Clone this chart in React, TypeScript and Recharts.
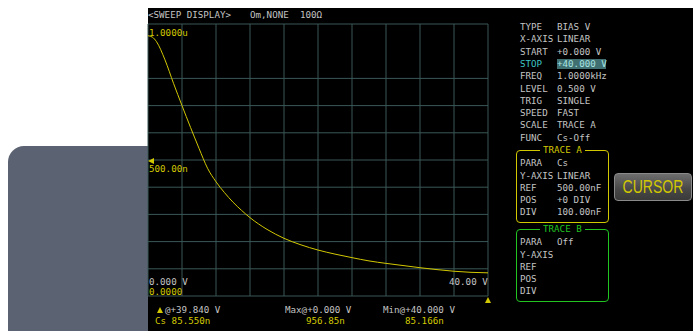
import React from 'react';
import { LineChart, Line, XAxis, YAxis, CartesianGrid } from 'recharts';

// Bias sweep, Cs (nF) against bias voltage (V)
const biasVolts = [0, 0.5, 1, 2, 3, 4, 5, 6, 7, 8, 9, 10, 11, 12, 13, 14, 16, 18, 20, 22, 24, 26, 28, 30, 32, 34, 36, 38, 40];
const csNano = [956.85, 952, 935, 868, 782, 700, 620, 543, 470, 420, 380, 345, 315, 288, 265, 245, 212, 188, 169, 154, 141, 129, 120, 112, 104, 97, 91, 87, 85.166];

const xTicks = [0, 4, 8, 12, 16, 20, 24, 28, 32, 36, 40];
const yTicks = [0, 100, 200, 300, 400, 500, 600, 700, 800, 900, 1000];

const setupRows = [
  ['TYPE', 'BIAS V'],
  ['X-AXIS', 'LINEAR'],
  ['START', '+0.000 V'],
  ['STOP', '+40.000 V'],
  ['FREQ', '1.0000kHz'],
  ['LEVEL', '0.500 V'],
  ['TRIG', 'SINGLE'],
  ['SPEED', 'FAST'],
  ['SCALE', 'TRACE A'],
  ['FUNC', 'Cs-Off'],
];
const traceARows = [
  ['PARA', 'Cs'],
  ['Y-AXIS', 'LINEAR'],
  ['REF', '500.00nF'],
  ['POS', '+0 DIV'],
  ['DIV', '100.00nF'],
];
const traceBRows = [
  ['PARA', 'Off'],
  ['Y-AXIS', ''],
  ['REF', ''],
  ['POS', ''],
  ['DIV', ''],
];

const data = biasVolts.map((v, i) => ({ v, cs: csNano[i] }));

const MONO = '"DejaVu Sans Mono", monospace';
const GRAY = '#c4c4c4';
const YELLOW = '#d2c800';
const GREEN = '#22c422';
const GRID = '#3b5757';

function T({ x, y, color = GRAY, children, style }: { x: number; y: number; color?: string; children: React.ReactNode; style?: React.CSSProperties }) {
  return (
    <div
      style={{
        position: 'absolute',
        left: x,
        top: y - 5,
        height: 10,
        lineHeight: '10px',
        fontFamily: MONO,
        fontSize: 9.2,
        color,
        whiteSpace: 'pre',
        ...style,
      }}
    >
      {children}
    </div>
  );
}

function TraceBox({ top, title, color, rows }: { top: number; title: string; color: string; rows: string[][] }) {
  return (
    <>
      <div
        style={{
          position: 'absolute',
          left: 516,
          top,
          width: 91,
          height: 71,
          border: `1px solid ${color}`,
          borderRadius: 4,
        }}
      />
      <T x={540} y={top} color={color} style={{ background: '#000', padding: '0 3px' }}>
        {title}
      </T>
      {rows.map((r, i) => (
        <React.Fragment key={r[0]}>
          <T x={520} y={top + 13.3 + i * 12.2}>{r[0]}</T>
          <T x={557} y={top + 13.3 + i * 12.2}>{r[1]}</T>
        </React.Fragment>
      ))}
    </>
  );
}

export default function App() {
  return (
    <div style={{ position: 'absolute', left: 0, top: 0, width: 699, height: 331, background: '#fff', overflow: 'hidden' }}>
      {/* grey bezel */}
      <div style={{ position: 'absolute', left: 8, top: 146, width: 160, height: 200, background: '#5b6373', borderRadius: 16 }} />
      {/* screen */}
      <div style={{ position: 'absolute', left: 148, top: 8, width: 545, height: 330, background: '#000' }} />

      <div style={{ position: 'absolute', left: 147, top: 23 }}>
        <LineChart width={342} height={274} data={data} margin={{ top: 1, right: 1, bottom: 1, left: 1 }}>
          <CartesianGrid stroke={GRID} strokeWidth={1} />
          <XAxis dataKey="v" type="number" domain={[0, 40]} ticks={xTicks} hide />
          <YAxis type="number" domain={[0, 1000]} ticks={yTicks} hide />
          <Line
            type="monotone"
            dataKey="cs"
            stroke={YELLOW}
            strokeWidth={1}
            dot={false}
            isAnimationActive={false}
          />
        </LineChart>
      </div>

      {/* header */}
      <T x={148} y={15}>{'<SWEEP DISPLAY>'}</T>
      <T x={250} y={15}>Om,NONE</T>
      <T x={300} y={15}>100Ω</T>

      {/* axis labels */}
      <T x={149} y={33} color={YELLOW}>1.0000u</T>
      <div style={{ position: 'absolute', left: 148, top: 158, width: 0, height: 0, borderTop: '3px solid transparent', borderBottom: '3px solid transparent', borderRight: `6px solid ${YELLOW}` }} />
      <T x={149} y={169} color={YELLOW}>500.00n</T>
      <T x={149} y={282}>0.000 V</T>
      <T x={149} y={292} color={YELLOW}>0.0000</T>
      <T x={449} y={282}>40.00 V</T>
      <div style={{ position: 'absolute', left: 485, top: 297, width: 0, height: 0, borderLeft: '3px solid transparent', borderRight: '3px solid transparent', borderBottom: `6px solid ${YELLOW}` }} />

      {/* cursor readouts */}
      <div style={{ position: 'absolute', left: 157, top: 307, width: 0, height: 0, borderLeft: '3px solid transparent', borderRight: '3px solid transparent', borderBottom: `6px solid ${YELLOW}` }} />
      <T x={165} y={310}>@+39.840 V</T>
      <T x={155} y={321} color={YELLOW}>Cs 85.550n</T>
      <T x={285} y={310}>Max@+0.000 V</T>
      <T x={306} y={321} color={YELLOW}>956.85n</T>
      <T x={383} y={310}>Min@+40.000 V</T>
      <T x={405} y={321} color={YELLOW}>85.166n</T>

      {/* setup panel */}
      {setupRows.map((r, i) => {
        const y = 27 + i * 12.3;
        const isStop = r[0] === 'STOP';
        return (
          <React.Fragment key={r[0]}>
            <T x={520} y={y} color={isStop ? '#3ec4c4' : GRAY}>{r[0]}</T>
            <T
              x={557}
              y={y}
              color={isStop ? '#a8e4e4' : GRAY}
              style={isStop ? { background: '#3f6f70', width: 49, height: 10 } : undefined}
            >
              {r[1]}
            </T>
          </React.Fragment>
        );
      })}

      <TraceBox top={150} title="TRACE A" color={YELLOW} rows={traceARows} />
      <TraceBox top={229} title="TRACE B" color={GREEN} rows={traceBRows} />

      {/* CURSOR soft key */}
      <div
        style={{
          position: 'absolute',
          left: 614,
          top: 173,
          width: 76,
          height: 26,
          borderRadius: 4,
          border: '1px solid #8a8a8a',
          background: 'linear-gradient(#6e6e6e, #474747 60%, #3a3a3a)',
          display: 'flex',
          alignItems: 'center',
          justifyContent: 'center',
        }}
      >
        <span
          style={{
            fontFamily: '"Liberation Sans", sans-serif',
            fontSize: 18,
            color: YELLOW,
            display: 'inline-block',
            transform: 'scaleX(0.78)',
            lineHeight: '18px',
          }}
        >
          CURSOR
        </span>
      </div>
    </div>
  );
}
